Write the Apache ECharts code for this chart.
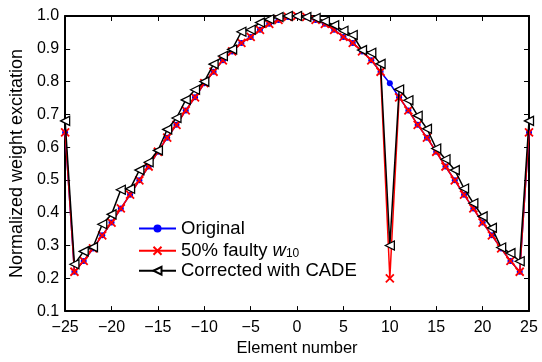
<!DOCTYPE html>
<html><head><meta charset="utf-8">
<script src="https://cdn.jsdelivr.net/npm/echarts@6/dist/echarts.min.js"></script>
<style>html,body{margin:0;padding:0;background:#fff}#c{width:542px;height:362px}</style>
</head><body><div id="c"></div>
<script>
var elements = [];
for (var k = -25; k <= 25; k++) elements.push(k);
var original = [0.645,0.22,0.253,0.291,0.331,0.37,0.413,0.455,0.499,0.541,0.586,0.629,0.668,0.712,0.752,0.795,0.83,0.865,0.892,0.918,0.936,0.958,0.976,0.988,0.997,1.0,
0.997,0.988,0.976,0.958,0.936,0.918,0.892,0.865,0.83,0.795,0.752,0.712,0.668,0.629,0.586,0.541,0.499,0.455,0.413,0.37,0.331,0.291,0.253,0.22,0.645];
var faulty = [0.645,0.22,0.253,0.291,0.331,0.37,0.413,0.455,0.499,0.541,0.586,0.629,0.668,0.712,0.752,0.795,0.83,0.865,0.892,0.918,0.936,0.958,0.976,0.988,0.997,1.0,
0.997,0.988,0.976,0.958,0.936,0.918,0.892,0.865,0.83,0.2,0.752,0.712,0.668,0.629,0.586,0.541,0.499,0.455,0.413,0.37,0.331,0.291,0.253,0.22,0.645];
var corrected = [0.68,0.243,0.282,0.295,0.365,0.395,0.47,0.473,0.53,0.554,0.59,0.654,0.689,0.744,0.775,0.80,0.853,0.878,0.898,0.952,0.958,0.98,0.99,0.997,1.0,1.0,
0.997,0.994,0.984,0.972,0.955,0.942,0.896,0.888,0.854,0.30,0.776,0.743,0.696,0.656,0.596,0.563,0.53,0.474,0.429,0.389,0.354,0.294,0.277,0.252,0.68];
var seriesNames = ['Original', '50% faulty w10', 'Corrected with CADE'];

function pairs(arr){ return arr.map(function(v,i){ return [elements[i], v]; }); }
var FONT = 'Liberation Sans, Arial, sans-serif';
var chart = echarts.init(document.getElementById('c'));
var axisCommon = {
  axisLine: {show: true, onZero: false, lineStyle: {color: '#000', width: 2}},
  axisTick: {show: true, inside: true, length: 5, lineStyle: {color: '#000', width: 1}},
  splitLine: {show: false}
};
chart.setOption({
  animation: false,
  backgroundColor: '#fff',
  grid: {left: 61, right: 13, top: 16, bottom: 45, containLabel: false},
  xAxis: [
    Object.assign({type: 'value', min: -25, max: 25, interval: 5, position: 'bottom',
      name: 'Element number', nameLocation: 'middle', nameGap: 27,
      nameTextStyle: {fontFamily: FONT, fontSize: 16.5, color: '#000'},
      axisLabel: {fontFamily: FONT, fontSize: 16, color: '#000', margin: 8,
        formatter: function(v){ return String(v).replace('-', '\u2212'); }}}, axisCommon),
    Object.assign({type: 'value', min: -25, max: 25, interval: 5, position: 'top',
      axisLabel: {show: false}}, axisCommon)
  ],
  yAxis: [
    Object.assign({type: 'value', min: 0.1, max: 1.0, interval: 0.1, position: 'left',
      name: 'Normalized weight excitation', nameLocation: 'middle', nameGap: 35,
      nameTextStyle: {fontFamily: FONT, fontSize: 18, color: '#000'},
      axisLabel: {fontFamily: FONT, fontSize: 16, color: '#000', margin: 6,
        formatter: function(v){ return v.toFixed(1); }}}, axisCommon),
    Object.assign({type: 'value', min: 0.1, max: 1.0, interval: 0.1, position: 'right',
      axisLabel: {show: false}}, axisCommon)
  ],
  legend: {
    orient: 'vertical', left: 133, top: 214,
    itemWidth: 37, itemHeight: 10, itemGap: 1,
    data: seriesNames,
    textStyle: {fontFamily: FONT, fontSize: 18.5, color: '#000', lineHeight: 18.5,
      rich: {
        i: {fontFamily: FONT, fontSize: 18.5, fontStyle: 'italic', color: '#000', lineHeight: 18.5},
        s: {fontFamily: FONT, fontSize: 12, color: '#000', verticalAlign: 'bottom', padding: [9,0,0,0], lineHeight: 18.5}
      }},
    formatter: function(n){ return n === '50% faulty w10' ? '50% faulty {i|w}{s|10}' : n; }
  },
  series: [
    {name: seriesNames[0], type: 'line', data: pairs(original), z: 2,
      symbol: 'circle', symbolSize: 6, showAllSymbol: true,
      lineStyle: {color: '#0000ff', width: 1.5}, itemStyle: {color: '#0000ff'}},
    {name: seriesNames[1], type: 'line', data: pairs(faulty), z: 3,
      symbol: 'path://M0,0L10,10M10,0L0,10', symbolSize: 8, showAllSymbol: true,
      lineStyle: {color: '#ff0000', width: 1.5},
      itemStyle: {color: 'none', borderColor: '#ff0000', borderWidth: 1.8}},
    {name: seriesNames[2], type: 'line', data: pairs(corrected), z: 4,
      symbol: 'triangle', symbolRotate: 90, symbolSize: 9, showAllSymbol: true,
      lineStyle: {color: '#000', width: 1.5},
      itemStyle: {color: '#fff', borderColor: '#000', borderWidth: 1.3}}
  ]
});
</script></body></html>
